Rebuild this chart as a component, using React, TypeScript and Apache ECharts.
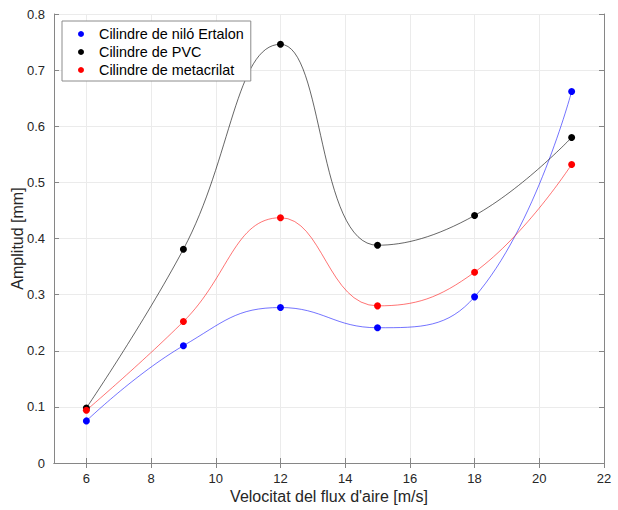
import React, { useEffect, useRef } from "react";
import * as echarts from "echarts";

const xValues = [6, 9, 12, 15, 18, 21];
const niloErtalon = [0.075, 0.209, 0.277, 0.241, 0.296, 0.662];
const pvc = [0.098, 0.381, 0.746, 0.388, 0.441, 0.580];
const metacrilat = [0.094, 0.252, 0.437, 0.280, 0.340, 0.532];
const seriesNames = ["Cilindre de niló Ertalon", "Cilindre de PVC", "Cilindre de metacrilat"];
const xTicks = [6, 8, 10, 12, 14, 16, 18, 20, 22];
const FONT = "'Liberation Sans', Arial, sans-serif";

export default function App() {
  const ref = useRef<HTMLDivElement>(null);
  useEffect(() => {
    if (!ref.current) return;
    const chart = echarts.init(ref.current, null, { renderer: "svg" });
    const mk = (name: string, vals: number[], color: string, lineOpacity: number) => ({
      name,
      type: "line",
      data: xValues.map((x, i) => [x, vals[i]]),
      smooth: 0.45,
      symbol: "circle",
      symbolSize: 7,
      showSymbol: true,
      itemStyle: { color },
      lineStyle: { color, width: 1, opacity: lineOpacity },
      xAxisIndex: 0,
      yAxisIndex: 0,
    });
    const axisLine = { show: true, lineStyle: { color: "#868686", width: 1 } };
    const tick = { show: true, inside: true, length: 5, lineStyle: { color: "#868686" } };
    chart.setOption({
      animation: false,
      textStyle: { fontFamily: FONT },
      grid: { left: 54, right: 14, top: 14, bottom: 47, show: false, containLabel: false, outerBoundsMode: "none" },
      legend: {
        orient: "vertical",
        left: 62,
        top: 21,
        data: seriesNames.map((n) => ({ name: n, icon: "circle" })),
        itemWidth: 6,
        itemHeight: 6,
        itemGap: 4,
        padding: [6, 7, 4, 16],
        borderColor: "#8c8c8c",
        borderWidth: 1,
        borderRadius: 0,
        backgroundColor: "#fff",
        textStyle: { fontFamily: FONT, fontSize: 14.4, color: "#000", padding: [0, 0, 0, 10] },
      },
      xAxis: [
        {
          type: "value",
          min: 5,
          max: 22,
          interval: 1,
          name: "Velocitat del flux d'aire [m/s]",
          nameLocation: "middle",
          nameGap: 25,
          nameMoveOverlap: false,
          nameTextStyle: { fontFamily: FONT, fontSize: 16, color: "#262626" },
          axisLine,
          axisTick: { ...tick, customValues: xTicks },
          axisLabel: {
            fontFamily: FONT,
            fontSize: 13,
            color: "#262626",
            margin: 9,
            customValues: xTicks,
          },
          splitLine: { show: true, lineStyle: { color: "#ebebeb" } },
        },
        {
          type: "value",
          min: 5,
          max: 22,
          interval: 1,
          position: "top",
          axisLine,
          axisTick: { ...tick, customValues: xTicks },
          axisLabel: { show: false },
          splitLine: { show: false },
        },
      ],
      yAxis: [
        {
          type: "value",
          min: 0,
          max: 0.8,
          interval: 0.1,
          name: "Amplitud [mm]",
          nameLocation: "middle",
          nameGap: 29,
          nameMoveOverlap: false,
          nameTextStyle: { fontFamily: FONT, fontSize: 16, color: "#262626" },
          axisLine,
          axisTick: tick,
          axisLabel: {
            fontFamily: FONT,
            fontSize: 13,
            color: "#262626",
            margin: 9,
            formatter: (v: number) => (Math.abs(v) < 1e-9 ? "0" : v.toFixed(1)),
          },
          splitLine: { show: true, lineStyle: { color: "#ebebeb" } },
        },
        {
          type: "value",
          min: 0,
          max: 0.8,
          interval: 0.1,
          position: "right",
          axisLine,
          axisTick: tick,
          axisLabel: { show: false },
          splitLine: { show: false },
        },
      ],
      series: [
        mk(seriesNames[0], niloErtalon, "#0000ff", 0.55),
        mk(seriesNames[1], pvc, "#000000", 0.6),
        mk(seriesNames[2], metacrilat, "#ff0000", 0.55),
      ],
    });
    return () => chart.dispose();
  }, []);
  return <div ref={ref} style={{ width: 618, height: 510, position: "absolute", left: 0, top: 0, background: "#fff" }} />;
}
